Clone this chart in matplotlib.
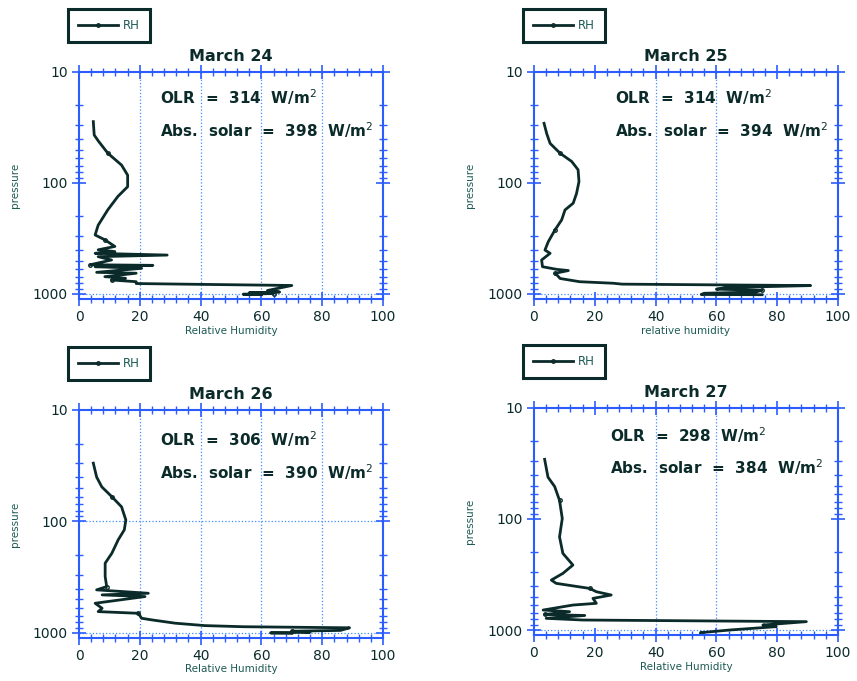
import matplotlib.pyplot as plt
import numpy as np
from matplotlib.ticker import MultipleLocator, LogLocator, NullFormatter, FixedLocator

# relative humidity profiles (RH %, pressure hPa)
rh_24 = [4.7, 5.0, 6.4, 9.5, 14.0, 16.0, 16.0, 12.8, 9.5, 6.3, 5.3, 8.5, 11.8, 6.3, 11.8, 5.3,
         29.0, 6.3, 10.7, 3.7, 24.3, 5.3, 20.6, 5.8, 18.8, 8.5, 15.3, 10.7, 18.8, 18.8, 34.0,
         70.0, 62.0, 66.0, 56.0, 64.0, 54.0, 60.0]
p_24 = [28, 37, 42, 54, 69, 85, 108, 132, 174, 240, 294, 325, 373, 400, 415, 430,
        446, 461, 494, 545, 552, 568, 587, 638, 650, 698, 722, 748, 775, 805, 815,
        838, 930, 960, 975, 990, 1005, 1015]

rh_25 = [3.3, 4.2, 5.3, 8.6, 12.4, 14.5, 14.8, 14.0, 12.9, 10.2, 9.1, 6.9, 4.7, 3.6, 5.3,
         2.5, 2.8, 7.5, 11.3, 7.0, 8.6, 15.0, 26.0, 29.0, 91.0, 63.0, 60.0, 75.0, 73.0,
         56.0, 55.0, 75.0]
p_25 = [29, 36, 44, 54, 64, 76, 97, 124, 152, 175, 215, 265, 338, 402, 430,
        494, 568, 600, 615, 650, 725, 775, 800, 815, 840, 875, 905, 925, 960,
        985, 1010, 1015]

rh_26 = [4.7, 5.8, 7.5, 10.8, 14.0, 15.4, 14.9, 12.9, 10.8, 8.6, 8.6, 9.1, 5.8, 22.8, 7.6,
         21.7, 5.3, 7.6, 6.3, 19.5, 20.6, 23.9, 31.6, 41.4, 54.0, 89.0, 86.0, 70.0, 76.0,
         63.0, 70.0]
p_26 = [30, 40, 49, 60, 74, 97, 119, 146, 193, 237, 312, 384, 411, 441, 456,
        472, 542, 601, 644, 667, 739, 764, 818, 860, 880, 900, 950, 965, 985,
        1000, 1010]

rh_27 = [3.5, 4.6, 6.8, 8.4, 9.3, 8.4, 9.5, 12.8, 9.5, 5.7, 7.3, 18.3, 20.5, 25.4, 19.4,
         20.5, 12.8, 3.0, 11.7, 3.5, 16.7, 4.0, 16.1, 89.6, 75.3, 79.7, 64.4, 55.0]
p_27 = [29, 42, 51, 68, 99, 145, 204, 260, 309, 355, 380, 422, 452, 484, 519,
        575, 596, 661, 684, 725, 740, 785, 813, 841, 902, 933, 1000, 1056]

titles = ['March 24', 'March 25', 'March 26', 'March 27']
olr = [314, 314, 306, 298]
abs_solar = [398, 394, 390, 384]
xlabels = ['Relative Humidity', 'relative humidity', 'Relative Humidity', 'Relative Humidity']
vgrid = [[20, 40, 60, 80], [40, 60], [20, 40, 60, 80], [40, 60]]
hgrid = [[1000], [1000], [100, 1000], [1000]]
profiles = [(rh_24, p_24), (rh_25, p_25), (rh_26, p_26), (rh_27, p_27)]

# axes rectangles in figure fraction
rects = [[0.0922, 0.5609, 0.3547, 0.3334],
         [0.6231, 0.5609, 0.3547, 0.3334],
         [0.0922, 0.0632, 0.3547, 0.3348],
         [0.6231, 0.0675, 0.3547, 0.3334]]
text_pos = [(0.266, 0.89, 0.745), (0.266, 0.89, 0.745), (0.266, 0.873, 0.728), (0.25, 0.881, 0.74)]

blue = '#2a5cff'
grid_blue = '#3f8cff'
ink = '#0b2b2a'
teal = '#1d5a55'

fig = plt.figure(figsize=(8.57, 6.81), dpi=100)

for i in range(4):
    ax = fig.add_axes(rects[i])
    rh, p = profiles[i]
    ax.plot(rh, p, color=ink, lw=2.0, marker='o', ms=2.5, mfc='none', mec=ink,
            markevery=(3, 8), label='RH')
    ax.set_yscale('log')
    ax.set_xlim(0, 100)
    ax.set_ylim(1110, 10)

    for g in vgrid[i]:
        ax.axvline(g, color=grid_blue, lw=0.9, ls=':', zorder=0)
    for g in hgrid[i]:
        ax.axhline(g, color=grid_blue, lw=0.9, ls=':', zorder=0)

    ax.xaxis.set_major_locator(MultipleLocator(20))
    ax.xaxis.set_minor_locator(MultipleLocator(4))
    ax.yaxis.set_major_locator(FixedLocator([10, 100, 1000]))
    ax.yaxis.set_minor_locator(LogLocator(base=10, subs=np.arange(2, 10)))
    ax.yaxis.set_minor_formatter(NullFormatter())
    ax.set_yticklabels(['10', '100', '1000'])

    for s in ax.spines.values():
        s.set_color(blue)
        s.set_linewidth(1.5)
    ax.tick_params(which='major', direction='inout', length=10, width=1.2, color=blue,
                   top=True, right=True, labelsize=10, labelcolor=ink, pad=3)
    ax.tick_params(which='minor', direction='inout', length=6, width=1.0, color=blue,
                   top=True, right=True)

    ax.set_title(titles[i], fontsize=11.5, fontweight='bold', color=ink, pad=8)
    ax.set_xlabel(xlabels[i], fontsize=7.5, color=teal, labelpad=1)
    ax.set_ylabel('pressure', fontsize=7.5, color=teal, labelpad=9)

    tx, ty1, ty2 = text_pos[i]
    ax.text(tx, ty1, 'OLR  =  %d  W/m$^2$' % olr[i], transform=ax.transAxes,
            fontsize=11, fontweight='bold', color=ink, va='center')
    ax.text(tx, ty2, 'Abs.  solar  =  %d  W/m$^2$' % abs_solar[i], transform=ax.transAxes,
            fontsize=11, fontweight='bold', color=ink, va='center')

    leg = ax.legend(loc='lower left', bbox_to_anchor=(-0.036, 1.132), fontsize=8.5,
                    handlelength=3.4, handletextpad=0.4, borderpad=0.85,
                    fancybox=False, framealpha=1, borderaxespad=0)
    leg.get_frame().set_edgecolor(ink)
    leg.get_frame().set_linewidth(2.2)
    for t in leg.get_texts():
        t.set_color(teal)

fig.savefig('out.png', dpi=100)
